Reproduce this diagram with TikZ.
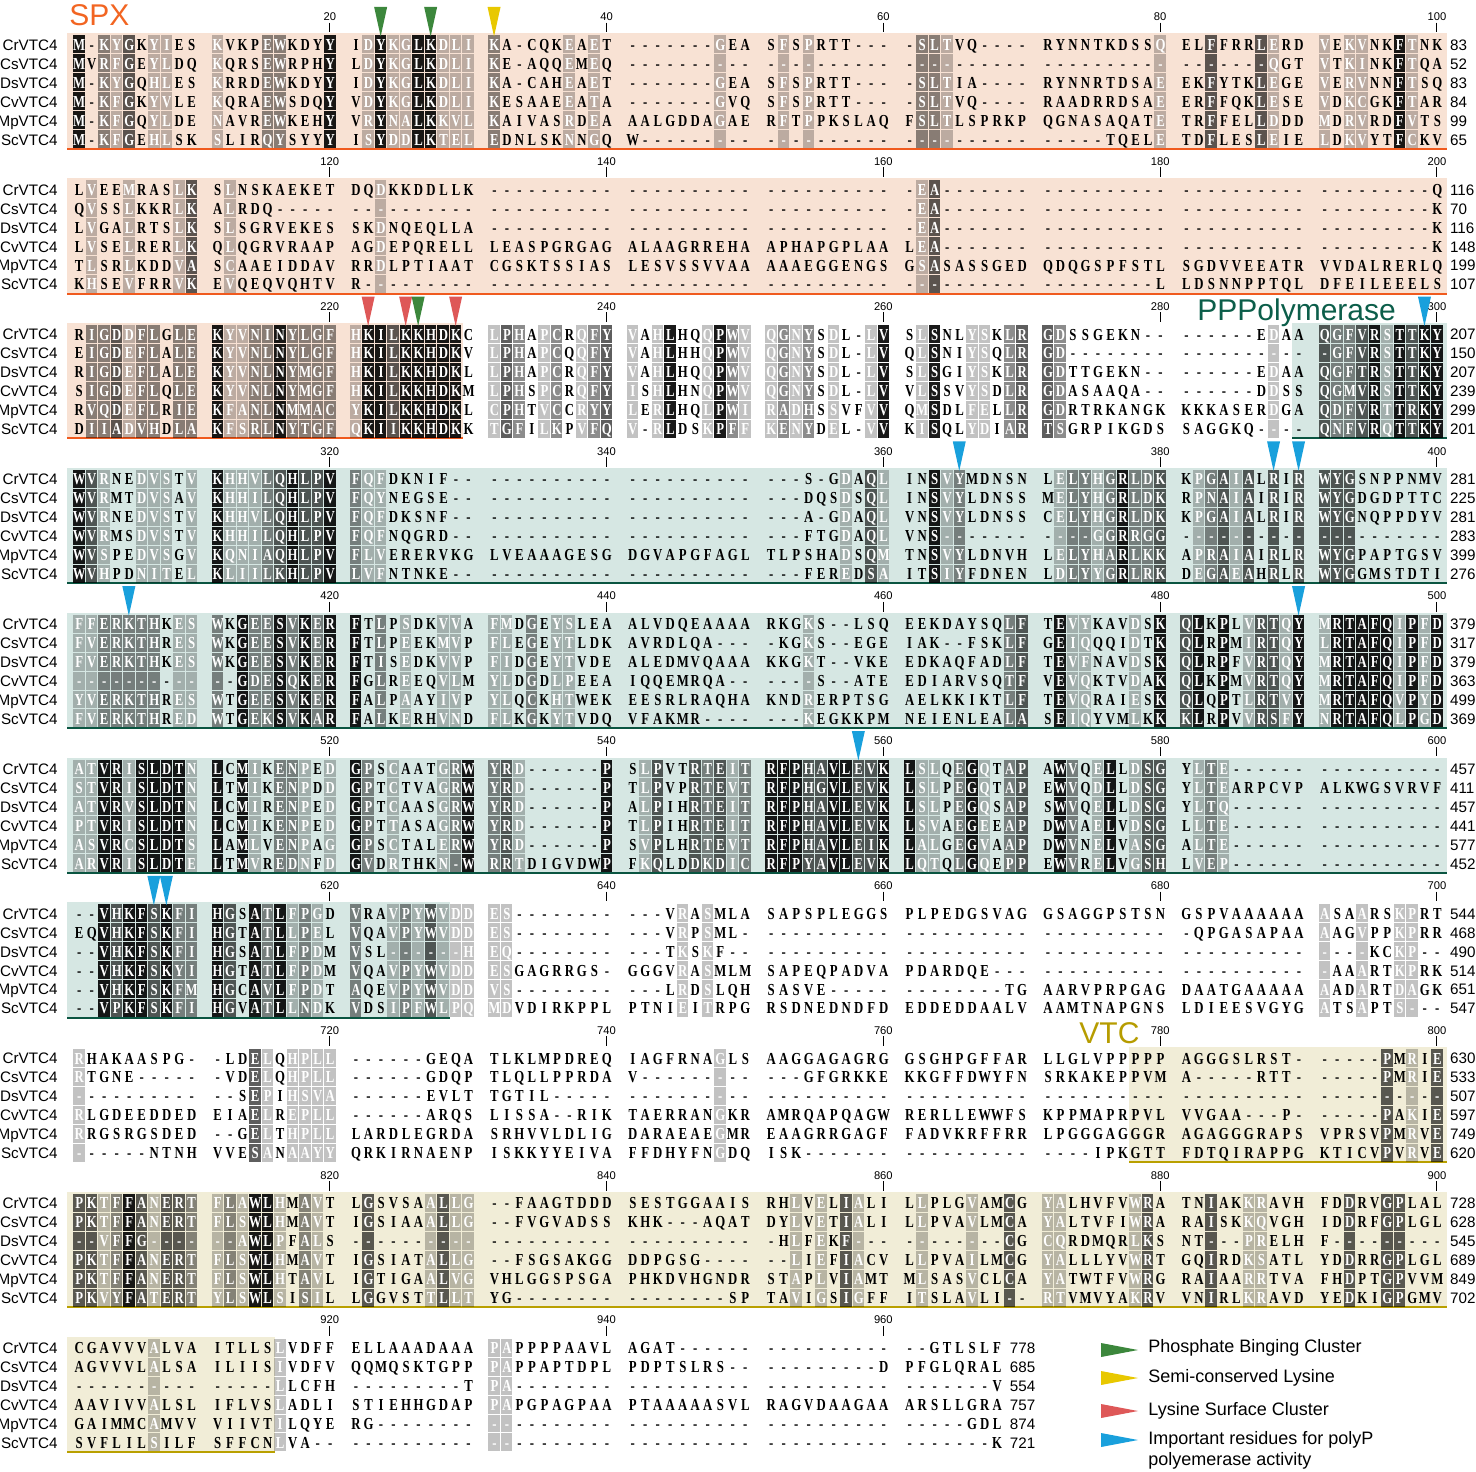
\documentclass[tikz,border=0pt]{standalone}
\usepackage{fontspec}
\setmainfont{Liberation Sans}
\newfontfamily\resfont[FakeStretch=0.76]{Liberation Serif}

\definecolor{spxfill}{RGB}{248,226,212}
\definecolor{spxline}{RGB}{240,90,30}
\definecolor{spxtext}{RGB}{242,101,34}
\definecolor{ppfill}{RGB}{214,231,227}
\definecolor{ppline}{RGB}{10,85,65}
\definecolor{pptext}{RGB}{12,94,74}
\definecolor{vtcfill}{RGB}{241,237,215}
\definecolor{vtcline}{RGB}{185,160,0}
\definecolor{vtctext}{RGB}{182,156,0}
\definecolor{mkgreen}{RGB}{60,135,60}
\definecolor{mkyellow}{RGB}{232,200,0}
\definecolor{mkred}{RGB}{222,88,88}
\definecolor{mkblue}{RGB}{25,160,220}

\tikzset{
  sh1/.style={fill=black, fill opacity=.24},
  sh2/.style={fill=black, fill opacity=.45},
  sh3/.style={fill=black, fill opacity=.63},
  sh4/.style={fill=black, fill opacity=.9},
  restext/.style={anchor=base west, inner sep=0pt, font=\resfont\bfseries\fontsize{8.4pt}{8.4pt}\selectfont},
  seqname/.style={anchor=base east, inner sep=0pt, font=\fontsize{7.6pt}{7.6pt}\selectfont},
  seqend/.style={anchor=base west, inner sep=0pt, font=\fontsize{7.6pt}{7.6pt}\selectfont},
  rulenum/.style={anchor=base, inner sep=0pt, font=\fontsize{5.6pt}{5.6pt}\selectfont},
  domlabel/.style={anchor=base west, inner sep=0pt, font=\fontsize{15pt}{15pt}\selectfont},
  legtext/.style={anchor=base west, inner sep=0pt, font=\fontsize{9pt}{9pt}\selectfont},
}

% one residue cell, white letter when shaded
\newcommand\grpgap{6.7pt}
\newcommand\rescell[2]{\makebox[6.25pt][c]{\if#1.\else\color{white}\fi#2}}
\newcommand\shadecell[3]{\fill[sh#1] (#2+.5,#3-9.5) rectangle (#2+12,#3+8.45);}
\newcommand\rowname[3]{\node[seqname] (nm#3) at (58,#1+5.35) {#2};}
\newcommand\rowtext[3]{\node[restext] (sq#3) at (72.6,#1+5.4) {#2};}
\newcommand\rowend[4]{\node[seqend] (en#4) at (#1,#2+5.35) {#3};}

\ExplSyntaxOn
\str_new:N \g_vtc_shd_str
\str_new:N \l_vtc_row_str
\str_new:N \l_vtc_res_str
\str_new:N \l_vtc_sh_str
\tl_new:N \l_vtc_txt_tl
\tl_new:N \l_vtc_y_tl
\int_new:N \l_vtc_n_int
\cs_new:Npn \vtc_colx:n #1
  { \fp_eval:n { 72.6 + 138.4 * \int_div_truncate:nn {#1-1} {10} + 12.5 * \int_mod:nn {#1-1} {10} } }
\NewDocumentCommand \SetShades { m }
  {
    \str_gset:Nn \g_vtc_shd_str {#1}
    \str_gremove_all:Nn \g_vtc_shd_str { ~ }
  }
% block, row, name, residues, last number
\NewDocumentCommand \SeqRow { m m m m m }
  {
    \tl_set:Nx \l_vtc_y_tl { \fp_eval:n { 45 + 144.8 * (#1) + 18.95 * (#2) } }
    \str_set:Nn \l_vtc_row_str {#4}
    \str_remove_all:Nn \l_vtc_row_str { ~ }
    \int_set:Nn \l_vtc_n_int { \str_count:N \l_vtc_row_str }
    \tl_clear:N \l_vtc_txt_tl
    \int_step_inline:nn { \l_vtc_n_int }
      {
        \str_set:Nx \l_vtc_res_str { \str_item:Nn \l_vtc_row_str {##1} }
        \str_set:Nx \l_vtc_sh_str { \str_item:Nn \g_vtc_shd_str {##1} }
        \tl_put_right:Nx \l_vtc_txt_tl
          { \exp_not:N \rescell { \l_vtc_sh_str } { \l_vtc_res_str } }
        \int_compare:nNnT { \int_mod:nn {##1} {10} } = { 0 }
          { \tl_put_right:Nn \l_vtc_txt_tl { \hspace*{\grpgap} } }
        \str_if_eq:VnF \l_vtc_sh_str { . }
          {
            \use:x
              { \exp_not:N \shadecell { \l_vtc_sh_str } { \vtc_colx:n {##1} } { \l_vtc_y_tl } }
          }
      }
    \use:x
      {
        \exp_not:N \rowname { \l_vtc_y_tl } {#3} {#1-#2}
        \exp_not:N \rowtext { \l_vtc_y_tl } { \exp_not:V \l_vtc_txt_tl } {#1-#2}
        \exp_not:N \rowend { \fp_eval:n { \vtc_colx:n { \l_vtc_n_int } + 19 } } { \l_vtc_y_tl } {#5} {#1-#2}
      }
  }
\ExplSyntaxOff

% block, number of ticks
\newcommand\Ruler[2]{%
  \foreach \k in {1,...,#2}{
    \pgfmathsetmacro\rx{52.95+276.8*\k}
    \pgfmathtruncatemacro\rn{100*#1+20*\k}
    \node[rulenum] (rl-#1-\k) at (\rx, 45+144.8*#1-24.3) {\rn};
    \draw[line width=.5pt] (\rx, 45+144.8*#1-22.3) -- (\rx, 45+144.8*#1-12.7);
  }}
% colour, block, column
\newcommand\Marker[3]{%
  \pgfmathsetmacro\mx{78.85+138.4*floor((#3-1)/10)+12.5*mod(#3-1,10)}
  \fill[#1] (\mx-6.5, 45+144.8*#2-38) -- (\mx+6.5, 45+144.8*#2-38) -- (\mx, 45+144.8*#2-8.5) -- cycle;}
% fill, line, block, x from, x to
\newcommand\Region[5]{%
  \fill[#1] (#4, 45+144.8*#3-11.5) rectangle (#5, 45+144.8*#3+103.75);
  \draw[#2, line width=1pt] (#4, 45+144.8*#3+103.75) -- (#5, 45+144.8*#3+103.75);}

\begin{document}
\begin{tikzpicture}[x=0.5pt, y=-0.5pt]
  \useasboundingbox (0,0) rectangle (1476,1471);

  % domains
  \Region{spxfill}{spxline}{0}{67}{1447}
  \Region{spxfill}{spxline}{1}{67}{1447}
  \Region{spxfill}{spxline}{2}{67}{463}
  \Region{ppfill}{ppline}{2}{1292}{1447}
  \Region{ppfill}{ppline}{3}{67}{1447}
  \Region{ppfill}{ppline}{4}{67}{1447}
  \Region{ppfill}{ppline}{5}{67}{1447}
  \Region{ppfill}{ppline}{6}{67}{450}
  \Region{vtcfill}{vtcline}{7}{1129}{1447}
  \Region{vtcfill}{vtcline}{8}{67}{1447}
  \Region{vtcfill}{vtcline}{9}{67}{275}

  \node[domlabel, text=spxtext] (spx) at (69,26) {SPX};
  \node[domlabel, text=pptext] (ppp) at (1197,320.5) {PPPolymerase};
  \node[domlabel, text=vtctext] (vtc) at (1079,1043.3) {VTC};

  % 1-100
  \SetShades{4.213.11.. 1...22...4 .141144111 2.....1.1. .......1.. .1.1...... .221...... .........1 ..3...31.. 1.11..41..}
  \SeqRow{0}{0}{CrVTC4}{M-KYGKYIES KVKPEWKDYY IDYKGLKDLI KA-CQKEAET -------GEA SFSPRTT--- -SLTVQ---- RYNNTKDSSQ ELFFRRLERD VEKVNKFTNK}{83}
  \SeqRow{0}{1}{CsVTC4}{MVRFGEYLDQ KQRSEWRPHY LDYKGLKDLI KE-AQQEMEQ ---------- ---------- ---------- ---------- -------QGT VTKINKFTQA}{52}
  \SeqRow{0}{2}{DsVTC4}{M-KYGQHLES KRRDEWKDYY IDYKGLKDLI KA-CAHEAET -------GEA SFSPRTT--- -SLTIA---- RYNNRTDSAE EKFYTKLEGE VERVNNFTSQ}{83}
  \SeqRow{0}{3}{CvVTC4}{M-KFGKYVLE KQRAEWSDQY VDYKGLKDLI KESAAEEATA -------GVQ SFSPRTT--- -SLTVQ---- RAADRRDSAE ERFFQKLESE VDKCGKFTAR}{84}
  \SeqRow{0}{4}{MpVTC4}{M-KFGQYLDE NAVREWKEHY VRYNALKKVL KAIVASRDEA AALGDDAGAE RFTPPKSLAQ FSLTLSPRKP QGNASAQATE TRFFELLDDD MDRVRDFVTS}{99}
  \SeqRow{0}{5}{ScVTC4}{M-KFGEHLSK SLIRQYSYYY ISYDDLKTEL EDNLSKNNGQ W--------- ---------- ---------- -----TQELE TDFLESLEIE LDKVYTFCKV}{65}

  % 101-200
  \SetShades{.1..1...13 .1........ ..1....... .......... .......... .......... .13....... .......... .......... ..........}
  \SeqRow{1}{0}{CrVTC4}{LVEEMRASLK SLNSKAEKET DQDKKDDLLK ---------- ---------- ---------- -EA------- ---------- ---------- ---------Q}{116}
  \SeqRow{1}{1}{CsVTC4}{QVSSLKKRLK ALRDQ----- ---------- ---------- ---------- ---------- -EA------- ---------- ---------- ---------K}{70}
  \SeqRow{1}{2}{DsVTC4}{LVGALRTSLK SLSGRVEKES SKDNQEQLLA ---------- ---------- ---------- -EA------- ---------- ---------- ---------K}{116}
  \SeqRow{1}{3}{CvVTC4}{LVSELRERLK QLQGRVRAAP AGDEPQRELL LEASPGRGAG ALAAGRREHA APHAPGPLAA LEA------- ---------- ---------- ---------K}{148}
  \SeqRow{1}{4}{MpVTC4}{TLSRLKDDVA SCAAEIDDAV RRDLPTIAAT CGSKTSSIAS LESVSSVVAA AAAEGGENGS GSASASSGED QDQGSPFSTL SGDVVEEATR VVDALRERLQ}{199}
  \SeqRow{1}{5}{ScVTC4}{KHSEVFRRVK EVQEQVQHTV R--------- ---------- ---------- ---------- ---------- ---------L LDSNNPPTQL DFEILEEELS}{107}

  % 201-300
  \SetShades{.223122.22 4112242222 144344444. 132.12.123 1.14..1421 1212.1..14 .14..11.23 32........ .......1.. 3223414344}
  \SeqRow{2}{0}{CrVTC4}{RIGDDFLGLE KYVNINYLGF HKILKKHDKC LPHAPCRQFY VAHLHQQPWV QGNYSDL-LV SLSNLYSKLR GDSSGEKN-- ------EDAA QGFVRSTTKY}{207}
  \SeqRow{2}{1}{CsVTC4}{EIGDEFLALE KYVNLNYLGF HKILKKHDKV LPHAPCQQFY VAHLHHQPWV QGNYSDL-LV QLSNIYSQLR GD-------- ---------- -GFVRSTTKY}{150}
  \SeqRow{2}{2}{DsVTC4}{RIGDEFLALE KYVNLNYMGF HKILKKHDKL LPHAPCRQFY VAHLHQQPWV QGNYSDL-LV SLSGIYSKLR GDTTGEKN-- ------EDAA QGFTRSTTKY}{207}
  \SeqRow{2}{3}{CvVTC4}{SIGDEFLQLE KYVNLNYMGF HKILKKHDKM LPHSPCRQFY ISHLHNQPWV QGNYSDL-LV VLSSVYSDLR GDASAAQA-- ------DDSS QGMVRSTTKY}{239}
  \SeqRow{2}{4}{MpVTC4}{RVQDEFLRIE KFANLNMMAC YKILKKHDKL CPHTVCCRYY LERLHQLPWI RADHSSVFVV QMSDLFELLR GDRTRKANGK KKKASERDGA QDFVRTTRKY}{299}
  \SeqRow{2}{5}{ScVTC4}{DIIADVHDLA KFSRLNYTGF QKIIKKHDKK TGFILKPVFQ V-RLDSKPFF KENYDEL-VV KISQLYDIAR TSGRPIKGDS SAGGKQ---- QNFVRQTTKY}{201}

  % 301-400
  \SetShades{431..111.1 4111234334 211....... .......... .......... ......1.31 ..412..... .122124223 .12313.3.3 333.......}
  \SeqRow{3}{0}{CrVTC4}{WVRNEDVSTV KHHVLQHLPV FQFDKNIF-- ---------- ---------- ---S-GDAQL INSVYMDNSN LELYHGRLDK KPGAIALRIR WYGSNPPNMV}{281}
  \SeqRow{3}{1}{CsVTC4}{WVRMTDVSAV KHHILQHLPV FQYNEGSE-- ---------- ---------- ---DQSDSQL INSVYLDNSS MELYHGRLDK RPNAIAIRIR WYGDGDPTTC}{225}
  \SeqRow{3}{2}{DsVTC4}{WVRNEDVSTV KHHVLQHLPV FQFDKSNF-- ---------- ---------- ---A-GDAQL VNSVYLDNSS CELYHGRLDK KPGAIALRIR WYGNQPPDYV}{281}
  \SeqRow{3}{3}{CvVTC4}{WVRMSDVSTV KHHILQHLPV FQFNQGRD-- ---------- ---------- ---FTGDAQL VNS------- ----GGRRGG ---------- ----------}{283}
  \SeqRow{3}{4}{MpVTC4}{WVSPEDVSGV KQNIAQHLPV FLVERERVKG LVEAAAGESG DGVAPGFAGL TLPSHADSQM TNSVYLDNVH LELYHARLKK APRAIAIRLR WYGPAPTGSV}{399}
  \SeqRow{3}{5}{ScVTC4}{WVHPDNITEL KLIILKHLPV LVFNTNKE-- ---------- ---------- ---FEREDSA ITSIYFDNEN LDLYYGRLRK DEGAEAHRLR WYGGMSTDTI}{276}

  % 401-500
  \SetShades{1122222.11 2.42242424 4.2.1..11. 11.2.11... .......... ...1...... ........23 .411...1.4 34.4.13314 1444441414}
  \SeqRow{4}{0}{CrVTC4}{FFERKTHKES WKGEESVKER FTLPSDKVVA FMDGEYSLEA ALVDQEAAAA RKGKS--LSQ EEKDAYSQLF TEVYKAVDSK QLKPLVRTQY MRTAFQIPFD}{379}
  \SeqRow{4}{1}{CsVTC4}{FVERKTHRES WKGEESVKER FTLPEEKMVP FLEGEYTLDK AVRDLQA--- -KGKS--EGE IAK--FSKLF GEIQQQIDTK QLRPMIRTQY LRTAFQIPFD}{317}
  \SeqRow{4}{2}{DsVTC4}{FVERKTHKES WKGEESVKER FTISEDKVVP FIDGEYTVDE ALEDMVQAAA KKGKT--VKE EDKAQFADLF TEVFNAVDSK QLRPFVRTQY MRTAFQIPFD}{379}
  \SeqRow{4}{3}{CvVTC4}{---------- --GDESQKER FGLREEQVLM YLDGDLPEEA IQQEMRQA-- ----S--ATE EDIARVSQTF VEVQKTVDAK QLKPMVRTQY MRTAFQIPFD}{363}
  \SeqRow{4}{4}{MpVTC4}{YVERKTHRES WTGEESVKER FALPAAYIVP YLQCKHTWEK EESRLRAQHA KNDRERPTSG AELKKIKTLF TEVQRAIESK QLQPTLRTVY MRTAFQVPYD}{499}
  \SeqRow{4}{5}{ScVTC4}{FVERKTHRED WTGEKSVKAR FALKERHVND FLKGKYTVDQ VFAKMR---- ---KEGKKPM NEIENLEALA SEIQYVMLKK KLRPVVRSFY NRTAFQLPGD}{369}

  % 501-600
  \SetShades{1144144441 4.41.221.1 42.1...124 231......4 .13..32312 4443344334 411.241.23 .42.14.133 .121...... ..........}
  \SeqRow{5}{0}{CrVTC4}{ATVRISLDTN LCMIKENPED GPSCAATGRW YRD------P SLPVTRTEIT RFPHAVLEVK LSLQEGQTAP AWVQELLDSG YLTE------ ----------}{457}
  \SeqRow{5}{1}{CsVTC4}{STVRISLDTN LTMIKENPDD GPTCTVAGRW YRD------P TLPVPRTEVT RFPHGVLEVK LSLPEGQTAP EWVQDLLDSG YLTEARPCVP ALKWGSVRVF}{411}
  \SeqRow{5}{2}{DsVTC4}{ATVRVSLDTN LCMIRENPED GPTCAASGRW YRD------P ALPIHRTEIT RFPHAVLEVK LSLPEGQSAP SWVQELLDSG YLTQ------ ----------}{457}
  \SeqRow{5}{3}{CvVTC4}{PTVRISLDTN LCMIKENPED GPTTASAGRW YRD------P TLPIHRTEIT RFPHAVLEVK LSVAEGEEAP DWVAELVDSG LLTE------ ----------}{441}
  \SeqRow{5}{4}{MpVTC4}{ASVRCSLDTS LAMLVENPAG GPSCTALERW YRD------P SVPLHRTEVT RFPHAVLEIK LALGEGVAAP DWVNELVASG ALTE------ ----------}{577}
  \SeqRow{5}{5}{ScVTC4}{ARVRISLDTE LTMVREDNFD GVDRTHKN-W RRTDIGVDWP FKQLDDKDIC RFPYAVLEVK LQTQLGQEPP EWVRELVGSH LVEP------ ----------}{452}

  % 601-700
  \SetShades{..43443422 43.424121. 2..1213111 11........ ....1.1... .......... .......... .......... .......... 1..1..11..}
  \SeqRow{6}{0}{CrVTC4}{--VHKFSKFI HGSATLFPGD VRAVPYWVDD ES-------- ---VRASMLA SAPSPLEGGS PLPEDGSVAG GSAGGPSTSN GSPVAAAAAA ASAARSKPRT}{544}
  \SeqRow{6}{1}{CsVTC4}{EQVHKFSKFI HGTATLLPEL VQAVPYWVDD ES-------- ---VRPSML- ---------- ---------- ---------- -QPGASAPAA AAGVPPKPRR}{468}
  \SeqRow{6}{2}{DsVTC4}{--VHKFSKFI HGSATLFPDM VSL------H EQ-------- ---TKSKF-- ---------- ---------- ---------- ---------- ----KCKP--}{490}
  \SeqRow{6}{3}{CvVTC4}{--VHKFSKYI HGTATLFPDM VQAVPYWVDD ESGAGRRGS- GGGVRASMLM SAPEQPADVA PDARDQE--- ---------- ---------- -AAARTKPRK}{514}
  \SeqRow{6}{4}{MpVTC4}{--VHKFSKFM HGCAVLFPDT AQEVPYWVDD VS-------- ---LRDSLQH SASVE----- --------TG AARVPRPGAG DAATGAAAAA AADARTDAGK}{651}
  \SeqRow{6}{5}{ScVTC4}{--VPKFSKFI HGVATLLNDK VDSIPFWLPQ MDVDIRKPPL PTNIEITRPG RSDNEDNDFD EDDEDDAALV AAMTNAPGNS LDIEESVGYG ATSAPTS---}{547}

  % 701-800
  \SetShades{1......... ...31.1111 .......... .......... .......1.. .......... .......... .......... .......... .....3.1.3}
  \SeqRow{7}{0}{CrVTC4}{RHAKAASPG- -LDELQHPLL ------GEQA TLKLMPDREQ IAGFRNAGLS AAGGAGAGRG GSGHPGFFAR LLGLVPPPPP AGGGSLRST- -----PMRIE}{630}
  \SeqRow{7}{1}{CsVTC4}{RTGNE----- -VDELQHPLL ------GDQP TLQLLPPRDA V--------- ---GFGRKKE KKGFFDWYFN SRKAKEPPVM A-----RTT- -----PMRIE}{533}
  \SeqRow{7}{2}{DsVTC4}{---------- --SEPIHSVA ------EVLT TGTIL----- ---------- ---------- ---------- ---------- ---------- ----------}{507}
  \SeqRow{7}{3}{CvVTC4}{RLGDEEDDED EIAELREPLL ------ARQS LISSA--RIK TAERRANGKR AMRQAPQAGW RERLLEWWFS KPPMAPRPVL VVGAA---P- -----PAKIE}{597}
  \SeqRow{7}{4}{MpVTC4}{RRGSRGSDED --GELTHPLL LARDLEGRDA SRHVVLDLIG DARAEAEGMR EAAGRRGAGF FADVKRFFRR LPGGGAGGGR AGAGGGRAPS VPRSVPMRVE}{749}
  \SeqRow{7}{5}{ScVTC4}{------NTNH VVESANAAYY QRKIRNAENP ISKKYYEIVA FFDHYFNGDQ ISK------- ---------- ----IPKGTT FDTQIRAPPG KTICVPVRVE}{620}

  % 801-900
  \SetShades{3312431332 121441.21. .3....1311 .......... .......... ..1.1.31.. .1...1..3. 11.....13. ..3..11... ..3..33...}
  \SeqRow{8}{0}{CrVTC4}{PKTFFANERT FLAWLHMAVT LGSVSAALLG --FAAGTDDD SESTGGAAIS RHLVELIALI LLPLGVAMCG YALHVFVWRA TNIAKKRAVH FDDRVGPLAL}{728}
  \SeqRow{8}{1}{CsVTC4}{PKTFFANERT FLSWLHMAVT IGSIAAALLG --FVGVADSS KHK---AQAT DYLVETIALI LLPVAVLMCA YALTVFIWRA RAISKKQVGH IDDRFGPLGL}{628}
  \SeqRow{8}{2}{DsVTC4}{--VFFG---- --AWLPFALS ---------- ---------- ---------- -HLFEKF--- --------CG CQRDMQRLKS NT---PRELH F---------}{545}
  \SeqRow{8}{3}{CvVTC4}{PKTFFANERT FLSWLHMAVT IGSIATALLG --FSGSAKGG DDPGSG---- --LIEFIACV LLPVAILMCG YALLLYVWRT GQIRDKSATL YDDRRGPLGL}{689}
  \SeqRow{8}{4}{MpVTC4}{PKTFFANERT FLSWLHTAVL IGTIGAALVG VHLGGSPSGA PHKDVHGNDR STAPLVIAMT MLSASVCLCA YATWTFVWRG RAIAARRTVA FHDPTGPVVM}{849}
  \SeqRow{8}{5}{ScVTC4}{PKVYFATERT YLSWLSISIL LGGVSTTLLT YG-------- --------SP TAVIGSIGFF ITSLAVLI-- RTVMVYAKRV VNIRLKRAVD YEDKIGPGMV}{702}

  % 901-968
  \SetShades{......1... .....1.... .......... 11........ .......... .......... ........}
  \SeqRow{9}{0}{CrVTC4}{CGAVVVALVA ITLLSLVDFF ELLAAADAAA PAPPPPAAVL AGAT------ ---------- --GTLSLF}{778}
  \SeqRow{9}{1}{CsVTC4}{AGVVVLALSA ILIISIVDFV QQMQSKTGPP PAPPAPTDPL PDPTSLRS-- ---------D PFGLQRAL}{685}
  \SeqRow{9}{2}{DsVTC4}{---------- -----LLCFH ---------T PA-------- ---------- ---------- -------V}{554}
  \SeqRow{9}{3}{CvVTC4}{AAVIVVALSL IFLVSLADLI STIEHHGDAP PAPGPAGPAA PTAAAAASVL RAGVDAAGAA ARSLLGRA}{757}
  \SeqRow{9}{4}{MpVTC4}{GAIMMCAMVV VIIVTILQYE RG-------- ---------- ---------- ---------- -----GDL}{874}
  \SeqRow{9}{5}{ScVTC4}{SVFLILSILF SFFCNLVA-- ---------- ---------- ---------- ---------- -------K}{721}

  % rulers
  \foreach \b in {0,...,8}{\Ruler{\b}{5}}
  \Ruler{9}{3}

  % markers
  \Marker{mkgreen}{0}{23}
  \Marker{mkgreen}{0}{27}
  \Marker{mkyellow}{0}{31}
  \Marker{mkred}{2}{22}
  \Marker{mkred}{2}{25}
  \Marker{mkgreen}{2}{26}
  \Marker{mkred}{2}{29}
  \Marker{mkblue}{2}{99}
  \Marker{mkblue}{3}{65}
  \Marker{mkblue}{3}{88}
  \Marker{mkblue}{3}{90}
  \Marker{mkblue}{4}{5}
  \Marker{mkblue}{4}{90}
  \Marker{mkblue}{5}{58}
  \Marker{mkblue}{6}{7}
  \Marker{mkblue}{6}{8}

  % legend
  \fill[mkgreen] (1101,1343) -- (1138,1350) -- (1101,1357) -- cycle;
  \fill[mkyellow] (1101,1371) -- (1138,1378) -- (1101,1385) -- cycle;
  \fill[mkred] (1101,1404) -- (1138,1411) -- (1101,1418) -- cycle;
  \fill[mkblue] (1101,1433) -- (1138,1440) -- (1101,1447) -- cycle;
  \node[legtext] (lg1) at (1148,1352.7) {Phosphate Binging Cluster};
  \node[legtext] (lg2) at (1148,1382.5) {Semi-conserved Lysine};
  \node[legtext] (lg3) at (1148,1415) {Lysine Surface Cluster};
  \node[legtext] (lg4) at (1148,1444.3) {Important residues for polyP};
  \node[legtext] (lg5) at (1148,1465) {polyemerase activity};
\end{tikzpicture}
\end{document}
